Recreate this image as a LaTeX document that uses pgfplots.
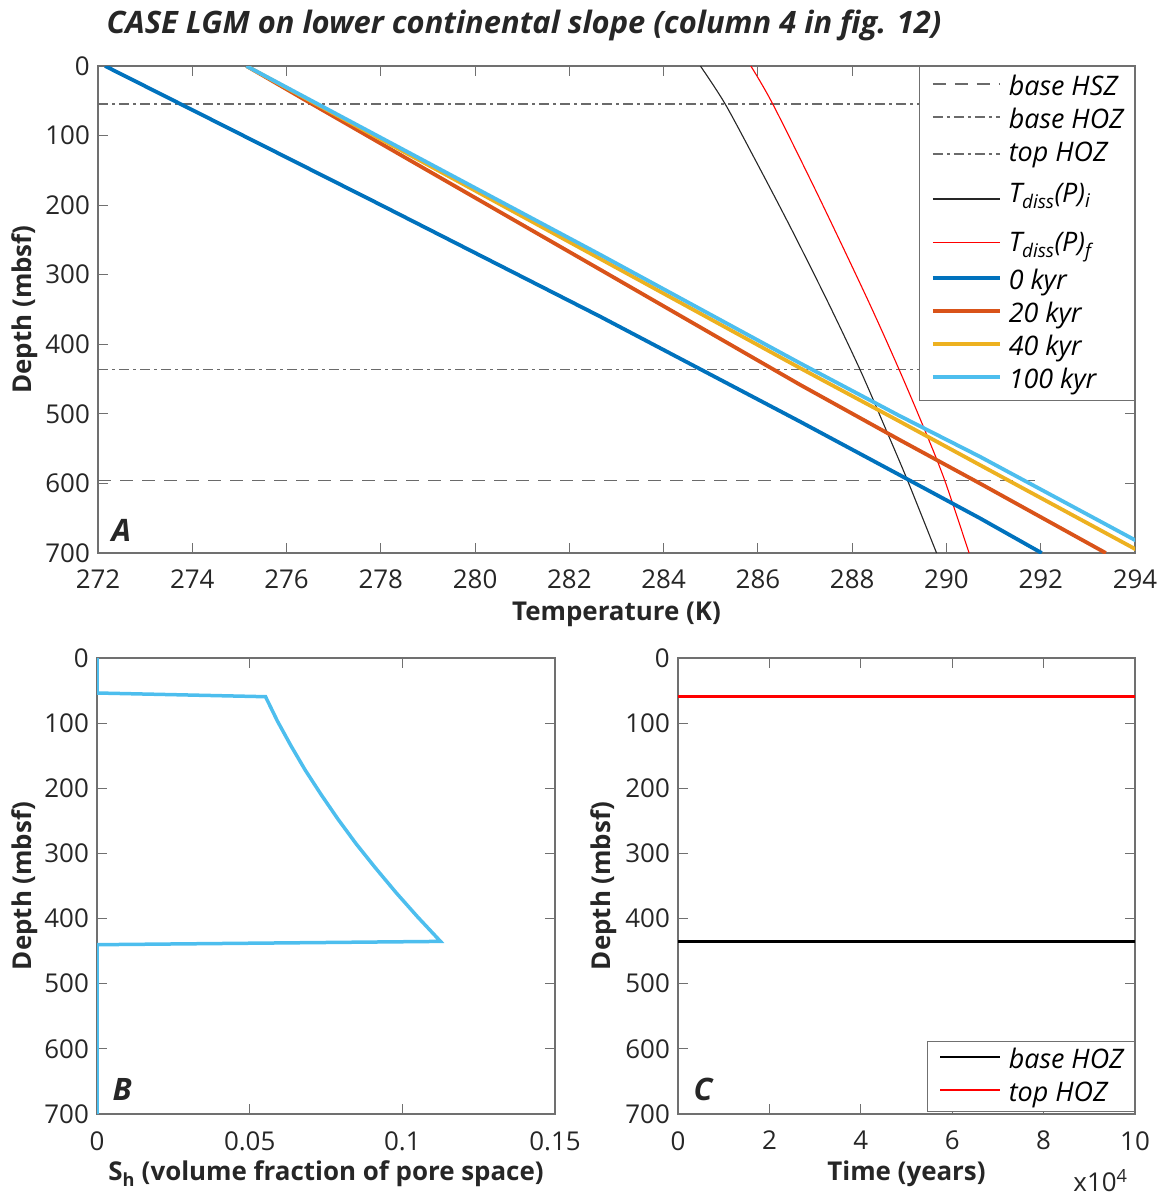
\documentclass[border=0pt]{standalone}
\usepackage{fontspec}
\setmainfont{Open Sans}
\usepackage{pgfplots}
\pgfplotsset{compat=1.18}
\definecolor{mblue}{rgb}{0,0.447,0.741}
\definecolor{morange}{rgb}{0.850,0.325,0.098}
\definecolor{myellow}{rgb}{0.929,0.694,0.125}
\definecolor{mcyan}{rgb}{0.301,0.745,0.933}
\definecolor{axgray}{HTML}{707070}
\definecolor{txt}{HTML}{262626}
\definecolor{refgray}{HTML}{6A6A6A}
\newcommand\tickfont{\fontsize{26}{30}\selectfont}
\newcommand\labfont{\fontsize{26}{30}\selectfont\bfseries}
\newcommand\legfont{\fontsize{27}{30}\selectfont\itshape}
\newcommand\titfont{\fontsize{31}{34}\selectfont\bfseries\itshape}
\newcommand\letfont{\fontsize{31}{34}\selectfont\bfseries\itshape}
\pgfplotsset{
  myaxis/.style={
    scale only axis, y dir=reverse, ymin=0, ymax=700, clip mode=individual,
    ytick={0,100,...,700}, yticklabels={0,100,200,300,400,500,600,700},
    axis line style={axgray, line width=1.3bp},
    every tick/.style={axgray, line width=1bp},
    major tick length=10bp, tick align=inside,
    xtick pos=both, ytick pos=both,
    tick label style={font=\tickfont, text=txt, inner sep=0pt},
    yticklabel style={xshift=-8bp},
    xticklabel style={yshift=-17bp},
    label style={font=\labfont, text=txt},
    xlabel style={at={(axis description cs:0.5,0)}, anchor=center},
    legend style={draw=axgray, line width=1bp, fill=white, font=\legfont, text=black,
      inner xsep=11bp, inner ysep=4bp, row sep=0pt, column sep=7bp,
      nodes={inner sep=0pt, text height=25bp, text depth=8bp}, cells={anchor=west}},
  }
}
\begin{document}
\begin{tikzpicture}
\path[use as bounding box] (0,0) rectangle (1167bp,-1200bp);
% ---------------- Panel A ----------------
\begin{axis}[myaxis, at={(98bp,-66bp)}, anchor=north west,
  width=1037bp, height=487bp,
  xmin=272, xmax=294, xtick={272,274,...,294},
  xticklabels={272,274,276,278,280,282,284,286,288,290,292,294},
  xlabel={Temperature (K)}, ylabel={Depth (mbsf)},
  xlabel style={yshift=-61bp},
  ylabel style={at={([xshift=-73bp]axis description cs:0,0.5)}, anchor=center},
  legend style={at={(1,1)}, anchor=north east},
  legend image code/.code={\draw[#1] (0bp,3bp) -- (67bp,3bp);}]
\addplot[refgray, line width=1.6bp, dash pattern=on 13bp off 9bp] coordinates {(272,596) (292,596)};
\addlegendentry{\legfont base HSZ}
\addplot[refgray, line width=1.6bp, dash pattern=on 10bp off 4bp on 3bp off 4bp] coordinates {(272,436.5) (292,436.5)};
\addlegendentry{\legfont base HOZ}
\addplot[refgray, line width=1.6bp, dash pattern=on 10bp off 4bp on 3bp off 4bp] coordinates {(272,54.5) (292,54.5)};
\addlegendentry[text depth=16bp]{\legfont top HOZ}
\addplot[black!85, line width=1.1bp, smooth] coordinates {(284.78,0) (285.30,54) (285.96,137) (286.70,233) (287.49,340) (288.17,437) (288.70,520) (289.17,595) (289.79,700)};
\addlegendentry[text depth=24bp]{\legfont T\textsubscript{diss}(P)\textsubscript{i}}
\addplot[red, line width=1.1bp, smooth] coordinates {(285.85,0) (286.31,54) (287.27,185) (288.33,336) (289.00,437) (289.52,520) (289.96,595) (290.48,700)};
\addlegendentry[text depth=13bp]{\legfont T\textsubscript{diss}(P)\textsubscript{f}}
\addplot[mblue, line width=3.8bp] coordinates {(272.15,0) (277.98,199) (282.65,360) (286.89,511) (289.01,588) (290.71,650) (292.02,700)};
\addlegendentry{\legfont 0 kyr}
\addplot[morange, line width=3.8bp] coordinates {(275.15,0) (276.55,55) (282.65,292.5) (286.89,458) (289.01,537.5) (290.71,600) (293.38,700)};
\addlegendentry{\legfont 20 kyr}
\addplot[myellow, line width=3.8bp] coordinates {(275.15,0) (282.65,277) (286.89,434) (289.01,511) (290.71,573.5) (294.16,700)};
\addlegendentry{\legfont 40 kyr}
\addplot[mcyan, line width=3.8bp] coordinates {(275.15,0) (282.65,271) (286.89,427) (289.01,503) (290.71,561.5) (294.51,700)};
\addlegendentry{\legfont 100 kyr}
\node[anchor=base west, font=\letfont, text=txt, xshift=10bp, yshift=12bp] at (axis description cs:0,0) {A};
\node[anchor=base west, font=\titfont, text=txt, xshift=5bp, yshift=33bp] at (axis description cs:0,1) {CASE LGM on lower continental slope (column 4 in fig. 12)};
\end{axis}
% ---------------- Panel B ----------------
\begin{axis}[myaxis, at={(97bp,-658bp)}, anchor=north west,
  width=458bp, height=456bp,
  xmin=0, xmax=0.15, xtick={0,0.05,0.1,0.15},
  xticklabels={0,0.05,0.1,0.15},
  xlabel={S\textsubscript{h} (volume fraction of pore space)}, ylabel={Depth (mbsf)},
  xlabel style={yshift=-60bp},
  ylabel style={at={([xshift=-72bp]axis description cs:0,0.5)}, anchor=center}]
\addplot[mcyan, line width=3.5bp] coordinates {(0,0) (0,53.7) (0.0552,59.4) (0.0591,96.9) (0.0635,134.5) (0.0682,172.1) (0.0734,209.6) (0.0789,247.2) (0.0848,284.8) (0.0912,322.3) (0.0979,359.9) (0.1050,397.4) (0.1125,435.0) (0,440.1) (0,700)};
\node[anchor=base west, font=\letfont, text=txt, xshift=12bp, yshift=14bp] at (axis description cs:0,0) {B};
\end{axis}
% ---------------- Panel C ----------------
\begin{axis}[myaxis, at={(678bp,-658bp)}, anchor=north west,
  width=457bp, height=456bp,
  xmin=0, xmax=100000, xtick={0,20000,40000,60000,80000,100000},
  xticklabels={0,2,4,6,8,10}, scaled x ticks=false,
  xlabel={Time (years)}, ylabel={Depth (mbsf)},
  xlabel style={yshift=-60bp},
  ylabel style={at={([xshift=-74bp]axis description cs:0,0.5)}, anchor=center},
  legend style={at={(1,0)}, anchor=south east, yshift=2bp, inner ysep=2bp},
  legend image code/.code={\draw[#1] (0bp,3bp) -- (60bp,3bp);}]
\addplot[black, line width=2.8bp] coordinates {(0,435.5) (100000,435.5)};
\addlegendentry{\legfont base HOZ}
\addplot[red, line width=2.8bp] coordinates {(0,59) (100000,59)};
\addlegendentry{\legfont top HOZ}
\node[anchor=base west, font=\letfont, text=txt, xshift=12bp, yshift=14bp] at (axis description cs:0,0) {C};
\node[anchor=base east, font=\tickfont, text=txt, xshift=-4bp, yshift=-77bp] at (axis description cs:1,0) {x10\textsuperscript{4}};
\end{axis}
\end{tikzpicture}
\end{document}
